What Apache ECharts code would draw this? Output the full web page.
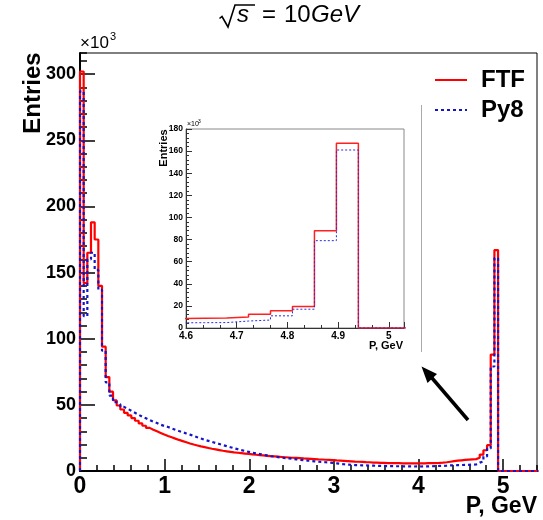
<!DOCTYPE html>
<html>
<head>
<meta charset="utf-8">
<script src="https://cdn.jsdelivr.net/npm/echarts/dist/echarts.min.js"></script>
<style>
html, body { margin: 0; padding: 0; background: #fff; }
#chart { width: 543px; height: 520px; }
</style>
</head>
<body>
<div id="chart"></div>
<script>
// histogram: 0 .. 5.2 GeV in 120 bins (plus empty bins to the frame edge), counts in 10^3
var binWidth = 5.2 / 120;

var ftfCounts = [302, 142, 165, 188, 175, 140, 94, 71, 60, 53.5,
    49.5, 46.5, 44, 42, 40, 38, 36, 34.2, 32.6, 31.2,
    30, 28.8, 27.6, 26.5, 25.5, 24.5, 23.5, 22.6, 21.7, 20.8,
    20, 19.3, 18.6, 18, 17.4, 16.8, 16.3, 15.8, 15.3, 14.9,
    14.5, 14.1, 13.8, 13.5, 13.2, 12.9, 12.6, 12.3, 12, 11.8,
    11.5, 11.2, 11, 10.8, 10.6, 10.4, 10.2, 10, 9.9, 9.7,
    9.5, 9.4, 9.2, 9, 8.8, 8.7, 8.5, 8.4, 8.2, 8,
    7.9, 7.7, 7.5, 7.3, 7.1, 7, 6.9, 6.7, 6.6, 6.4,
    6.3, 6.2, 6.1, 6, 6, 5.9, 5.9, 5.8, 5.8, 5.7,
    5.8, 5.7, 5.8, 5.8, 5.9, 5.9, 6, 6.1, 6.3, 6.6,
    7, 7.4, 7.8, 8.1, 8.4, 8.6, 8.8, 9, 10, 12.4,
    15.7, 19.5, 88, 167, 0, 0, 0, 0, 0, 0,
    0, 0, 0, 0, 0];

var py8Counts = [287, 117, 160, 165, 152, 137, 91, 67, 57, 52,
    50.5, 48.5, 47, 45.5, 44, 42.5, 41, 39.8, 38.5, 37.3,
    36.3, 35, 34, 33.3, 32.2, 31.2, 30.2, 29.3, 28.4, 27.5,
    26.5, 25.5, 24.6, 23.6, 22.8, 22, 21.2, 20.4, 19.6, 18.8,
    18, 17.2, 16.5, 15.8, 15.1, 14.5, 13.9, 13.3, 12.8, 12.3,
    11.8, 11.3, 10.9, 10.5, 10.1, 9.8, 9.5, 9.2, 8.8, 8.5,
    8.2, 7.9, 7.6, 7.3, 7, 6.8, 6.6, 6.4, 6.1, 5.8,
    5.4, 5.1, 4.9, 4.7, 4.5, 4.4, 4.3, 4.2, 4.1, 4,
    3.9, 3.8, 3.8, 3.7, 3.7, 3.6, 3.6, 3.5, 3.5, 3.5,
    3.4, 3.5, 3.4, 3.5, 3.5, 3.6, 3.7, 3.8, 3.9, 4,
    4.2, 4.3, 4.4, 4.5, 4.6, 4.7, 4.8, 4.9, 6.3, 7.2,
    11, 17, 79, 161, 0, 0, 0, 0, 0, 0,
    0, 0, 0, 0, 0];

var seriesNames = ['FTF', 'Py8'];
var mainXTicks = [0, 5.4, 1, 0.2];      // min, max, major, minor
var mainYTicks = [0, 316, 50, 10];
var insetXTicks = [4.6, 5.03, 0.1];
var insetYTicks = [0, 180, 20];

var FONT = '"Liberation Sans", Arial, Helvetica, sans-serif';

// bin edges -> step points
function stepData(counts) {
    var pts = [[0, 0]];
    for (var i = 0; i < counts.length; i++) {
        pts.push([i * binWidth, counts[i]]);
    }
    pts.push([counts.length * binWidth, 0]);
    return pts;
}

var myChart = echarts.init(document.getElementById('chart'), null, { renderer: 'canvas' });

var noLine = { show: false };
var blackTick = { color: '#000', width: 1.5 };

option = {
    animation: false,
    backgroundColor: '#fff',
    grid: [{
        left: 80, top: 53, right: 6, bottom: 49,
        show: true, borderColor: '#000', borderWidth: 1, backgroundColor: '#fff'
    }, {
        left: 186, top: 129, width: 218, height: 199,
        show: true, borderColor: '#888', borderWidth: 1, backgroundColor: '#fff'
    }],
    legend: {
        data: seriesNames,
        orient: 'vertical',
        left: 429, top: 63,
        itemWidth: 32, itemHeight: 14, itemGap: 6,
        itemStyle: { opacity: 0 },
        textStyle: { fontFamily: FONT, fontSize: 24, fontWeight: 'bold', color: '#000', padding: [0, 0, 8, 9] }
    },
    xAxis: [{
        type: 'value', gridIndex: 0,
        min: mainXTicks[0], max: mainXTicks[1], interval: mainXTicks[2],
        axisLine: { show: true, onZero: false, lineStyle: { color: '#000', width: 2 } },
        axisTick: { show: true, inside: true, length: 12, lineStyle: blackTick },
        splitLine: noLine,
        axisLabel: { fontFamily: FONT, fontSize: 23, fontWeight: 'bold', color: '#000', margin: 4, showMaxLabel: false }
    }, {
        type: 'value', gridIndex: 0, position: 'bottom',
        min: mainXTicks[0], max: mainXTicks[1], interval: mainXTicks[3],
        axisLine: noLine,
        axisTick: { show: true, inside: true, length: 6, lineStyle: blackTick },
        splitLine: noLine, axisLabel: noLine
    }, {
        type: 'value', gridIndex: 1,
        min: insetXTicks[0], max: insetXTicks[1], interval: insetXTicks[2],
        axisLine: { show: true, onZero: false, lineStyle: { color: '#333', width: 1 } },
        axisTick: { show: true, inside: true, length: 6, lineStyle: { color: '#333', width: 1 } },
        minorTick: { show: true, splitNumber: 3, length: 3, lineStyle: { color: '#333', width: 1 } },
        splitLine: noLine,
        axisLabel: { fontFamily: FONT, fontSize: 10, fontWeight: 'bold', color: '#000', margin: 3, showMaxLabel: false }
    }],
    yAxis: [{
        type: 'value', gridIndex: 0,
        min: mainYTicks[0], max: mainYTicks[1], interval: mainYTicks[2],
        axisLine: { show: true, onZero: false, lineStyle: { color: '#000', width: 2 } },
        axisTick: { show: true, inside: true, length: 15, lineStyle: blackTick },
        splitLine: noLine,
        axisLabel: { fontFamily: FONT, fontSize: 18, fontWeight: 'bold', color: '#000', margin: 4, showMaxLabel: false }
    }, {
        type: 'value', gridIndex: 0, position: 'left',
        min: mainYTicks[0], max: mainYTicks[1], interval: mainYTicks[3],
        axisLine: noLine,
        axisTick: { show: true, inside: true, length: 7, lineStyle: blackTick },
        splitLine: noLine, axisLabel: noLine
    }, {
        type: 'value', gridIndex: 1,
        min: insetYTicks[0], max: insetYTicks[1], interval: insetYTicks[2],
        axisLine: { show: true, onZero: false, lineStyle: { color: '#333', width: 1 } },
        axisTick: { show: true, inside: true, length: 6, lineStyle: { color: '#333', width: 1 } },
        minorTick: { show: true, splitNumber: 5, length: 3, lineStyle: { color: '#333', width: 1 } },
        splitLine: noLine,
        axisLabel: { fontFamily: FONT, fontSize: 8.5, fontWeight: 'bold', color: '#000', margin: 3 }
    }],
    series: [{
        name: seriesNames[0], type: 'line', step: 'end', symbol: 'none',
        xAxisIndex: 0, yAxisIndex: 0,
        data: stepData(ftfCounts),
        lineStyle: { color: '#ff0000', width: 2.2 }, itemStyle: { color: '#ff0000' }
    }, {
        name: seriesNames[1], type: 'line', step: 'end', symbol: 'none',
        xAxisIndex: 0, yAxisIndex: 0,
        data: stepData(py8Counts),
        lineStyle: { color: '#1414c8', width: 2.2, type: [3, 3] }, itemStyle: { color: '#1414c8' }
    }, {
        name: seriesNames[0], type: 'line', step: 'end', symbol: 'none',
        xAxisIndex: 2, yAxisIndex: 2,
        data: stepData(ftfCounts),
        lineStyle: { color: '#ff2020', width: 1.5 }
    }, {
        name: seriesNames[1], type: 'line', step: 'end', symbol: 'none',
        xAxisIndex: 2, yAxisIndex: 2,
        data: stepData(py8Counts),
        lineStyle: { color: '#2a2ae0', width: 1, type: [2, 2] }
    }],
    graphic: [
        // title: sqrt(s) = 10 GeV
        { type: 'polyline', shape: { points: [[219.5, 18.5], [222, 16.5], [228, 27], [235, 5], [255, 5]] },
          style: { stroke: '#000', lineWidth: 1.6, fill: null } },
        { type: 'text', x: 237, y: 27, style: { text: 's', font: 'italic 24px ' + FONT, fill: '#000', textVerticalAlign: 'bottom' } },
        { type: 'text', x: 262, y: 27, style: { text: '=', font: '24px ' + FONT, fill: '#000', textVerticalAlign: 'bottom' } },
        { type: 'text', x: 284, y: 27, style: { text: '10', font: '24px ' + FONT, fill: '#000', textVerticalAlign: 'bottom' } },
        { type: 'text', x: 311, y: 27, style: { text: 'GeV', font: 'italic 24px ' + FONT, fill: '#000', textVerticalAlign: 'bottom' } },
        // main axis titles
        { type: 'text', x: 80, y: 52, style: { text: '×10', font: '17px ' + FONT, fill: '#000', textVerticalAlign: 'bottom' } },
        { type: 'text', x: 110, y: 42, style: { text: '3', font: '11px ' + FONT, fill: '#000', textVerticalAlign: 'bottom' } },
        { type: 'text', x: 33, y: 93, rotation: Math.PI / 2,
          style: { text: 'Entries', font: 'bold 24px ' + FONT, fill: '#000', textAlign: 'center', textVerticalAlign: 'middle' } },
        { type: 'text', x: 537, y: 518, style: { text: 'P, GeV', font: 'bold 23px ' + FONT, fill: '#000', textAlign: 'right', textVerticalAlign: 'bottom' } },
        // inset axis titles
        { type: 'text', x: 187, y: 128, style: { text: '×10', font: '7px ' + FONT, fill: '#000', textVerticalAlign: 'bottom' } },
        { type: 'text', x: 198, y: 124, style: { text: '3', font: '5px ' + FONT, fill: '#000', textVerticalAlign: 'bottom' } },
        { type: 'text', x: 163.5, y: 148, rotation: Math.PI / 2,
          style: { text: 'Entries', font: 'bold 11px ' + FONT, fill: '#000', textAlign: 'center', textVerticalAlign: 'middle' } },
        { type: 'text', x: 403, y: 351, style: { text: 'P, GeV', font: 'bold 11px ' + FONT, fill: '#000', textAlign: 'right', textVerticalAlign: 'bottom' } },
        // stray pad edge
        { type: 'line', shape: { x1: 421.5, y1: 105, x2: 421.5, y2: 352 }, style: { stroke: '#aaa', lineWidth: 1 } },
        // arrow pointing at the inset
        { type: 'line', shape: { x1: 468, y1: 420, x2: 429, y2: 374.5 }, style: { stroke: '#000', lineWidth: 3.5 } },
        { type: 'polygon', shape: { points: [[421.5, 366.5], [437, 374], [427.5, 383]] }, style: { fill: '#000' } }
    ]
};

myChart.setOption(option);
</script>
</body>
</html>
